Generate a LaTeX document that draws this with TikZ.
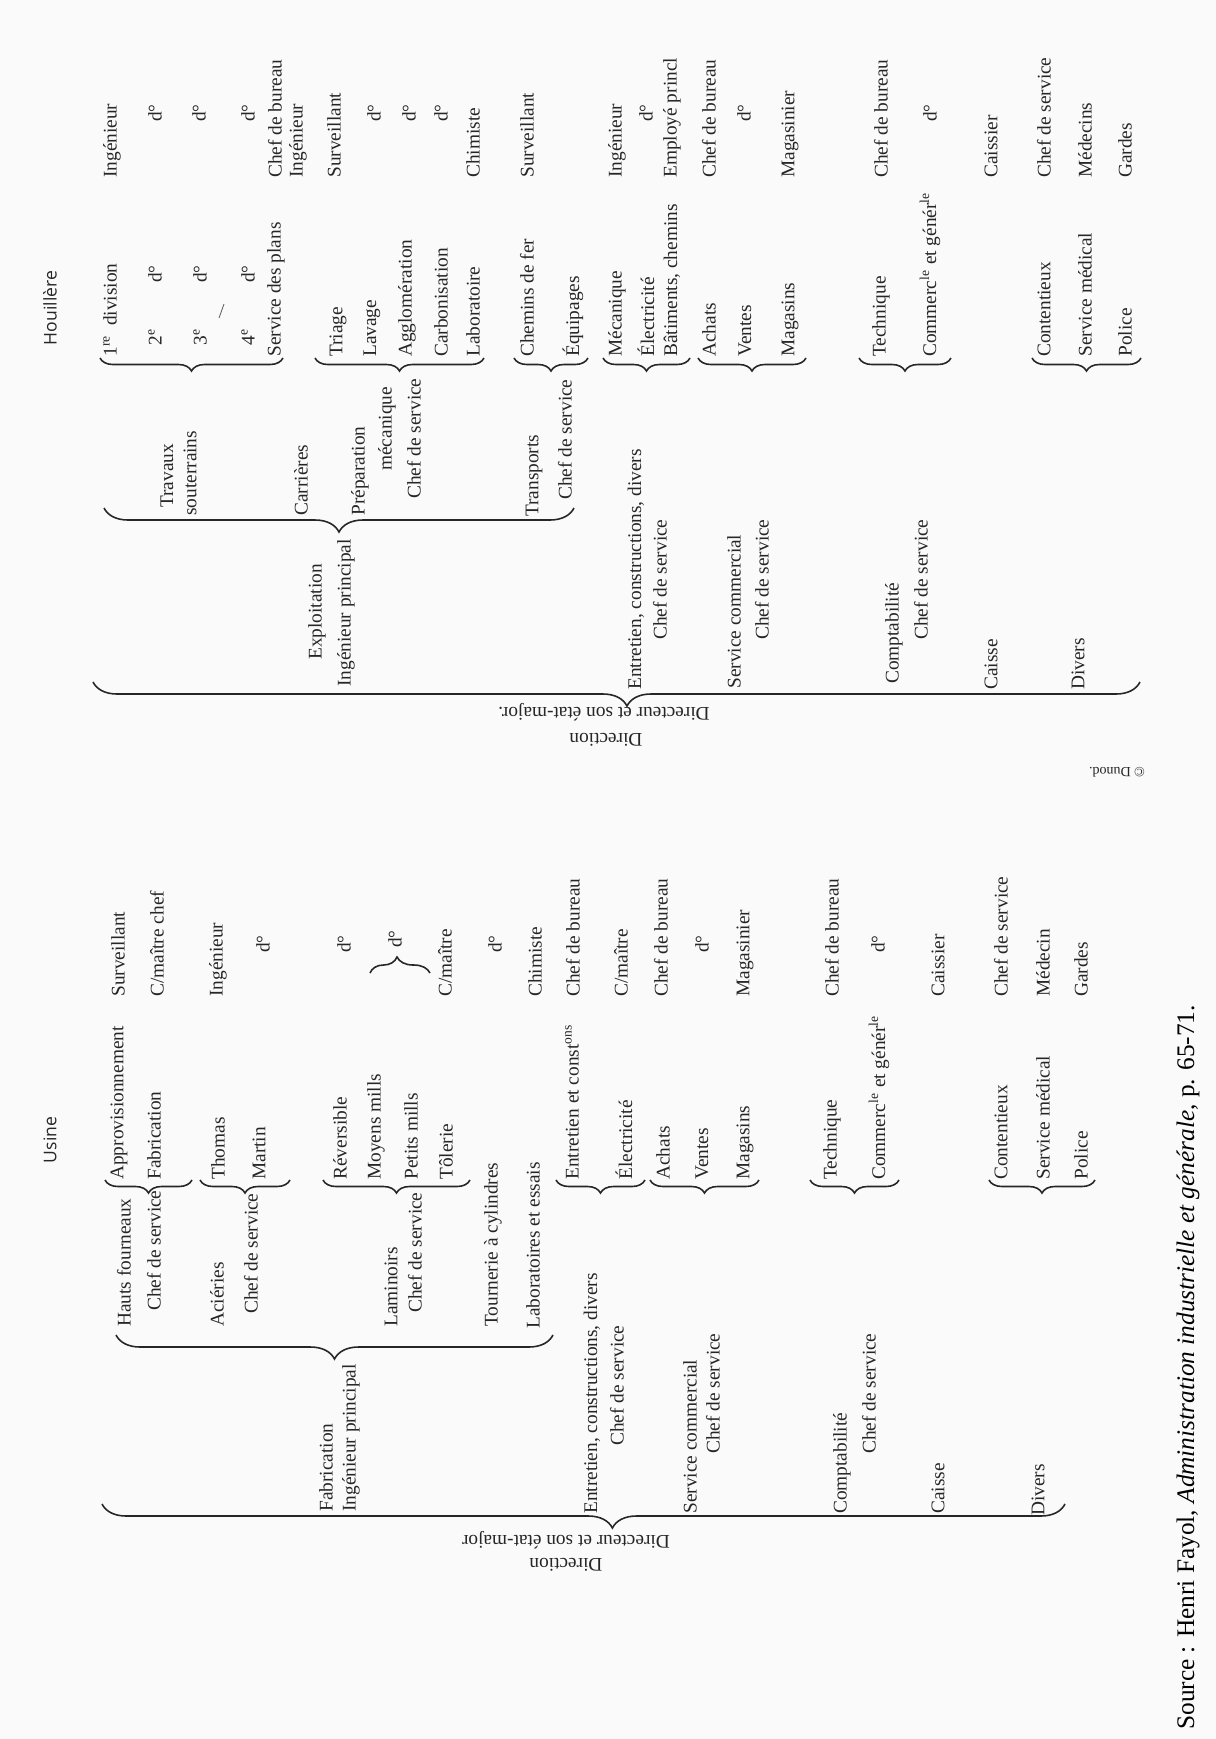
\documentclass[tikz,border=0pt]{standalone}
\usepackage{fontspec}
\setmainfont{Liberation Serif}
\newfontfamily\titrefont{Open Sans}
\usetikzlibrary{decorations.pathreplacing}

\begin{document}
\begin{tikzpicture}[x=0.02cm,y=-0.02cm]
\tikzstyle{every node}+=[inner sep=0pt, text=black!85]
\tikzstyle{lbl}=[rotate=90, anchor=west, font=\fontsize{11}{13}\selectfont]
\tikzstyle{ditto}=[rotate=90, anchor=center, font=\fontsize{11}{13}\selectfont]
\tikzstyle{dir}=[rotate=180, anchor=center, font=\fontsize{11}{13}\selectfont]
\tikzstyle{titre}=[rotate=90, anchor=center, font=\titrefont\fontsize{10}{12}\selectfont]
\tikzstyle{brc}=[draw=black!85, line width=0.9pt, decorate, decoration={brace, amplitude=0.26cm}]
\tikzstyle{bigbrc}=[draw=black!85, line width=0.9pt, decorate, decoration={brace, amplitude=0.48cm}]
\fill [black!2] (0,0) rectangle (1216,1739);
\useasboundingbox (0,0) rectangle (1216,1739);
% Houillere
\node [titre] (hTitre) at (50,308) {Houillère};
\node [lbl] (hR1) at (112,178) {Ingénieur};
\node [ditto] (hR2) at (155,113) {d°};
\node [ditto] (hR3) at (199,113) {d°};
\node [ditto] (hR4) at (248,113) {d°};
\node [lbl] (hR5) at (275,178) {Chef de bureau};
\node [lbl] (hR6) at (298,178) {Ingénieur};
\node [lbl] (hR7) at (334,178) {Surveillant};
\node [ditto] (hR8) at (374,113) {d°};
\node [ditto] (hR9) at (409,113) {d°};
\node [ditto] (hR10) at (441,113) {d°};
\node [lbl] (hR11) at (473,178) {Chimiste};
\node [lbl] (hR12) at (527,178) {Surveillant};
\node [lbl] (hR13) at (617,178) {Ingénieur};
\node [ditto] (hR14) at (646,113) {d°};
\node [lbl] (hR15) at (672,178) {Employé princl};
\node [lbl] (hR16) at (709,178) {Chef de bureau};
\node [ditto] (hR17) at (744,113) {d°};
\node [lbl] (hR18) at (790,178) {Magasinier};
\node [lbl] (hR19) at (881,178) {Chef de bureau};
\node [ditto] (hR20) at (930,113) {d°};
\node [lbl] (hR21) at (991,178) {Caissier};
\node [lbl] (hR22) at (1044,178) {Chef de service};
\node [lbl] (hR23) at (1085,178) {Médecins};
\node [lbl] (hR24) at (1125,178) {Gardes};
\node [lbl] (h2a) at (110,357) {1\textsuperscript{re}\hspace{0.5em}division};
\node [lbl] (h2b) at (155,346) {2\textsuperscript{e}};
\node [ditto] (h2bd) at (155,274) {d°};
\node [lbl] (h2c) at (200,346) {3\textsuperscript{e}};
\node [ditto] (h2cd) at (200,274) {d°};
\node [lbl] (h2d) at (248,346) {4\textsuperscript{e}};
\node [ditto] (h2dd) at (248,274) {d°};
\node [lbl] (h2e) at (276,357) {Service des plans};
\node [lbl] (h2f) at (338,357) {Triage};
\node [lbl] (h2g) at (372,357) {Lavage};
\node [lbl] (h2h) at (407,357) {Agglomération};
\node [lbl] (h2i) at (441,357) {Carbonisation};
\node [lbl] (h2j) at (473,357) {Laboratoire};
\node [lbl] (h2k) at (527,357) {Chemins de fer};
\node [lbl] (h2l) at (573,357) {Équipages};
\node [lbl] (h2m) at (617,357) {Mécanique};
\node [lbl] (h2n) at (646,357) {Électricité};
\node [lbl] (h2o) at (672,357) {Bâtiments, chemins};
\node [lbl] (h2p) at (709,357) {Achats};
\node [lbl] (h2q) at (745,357) {Ventes};
\node [lbl] (h2r) at (790,357) {Magasins};
\node [lbl] (h2s) at (881,357) {Technique};
\node [lbl] (h2t) at (930,357) {Commerc\textsuperscript{le} et génér\textsuperscript{le}};
\node [lbl] (h2u) at (1044,357) {Contentieux};
\node [lbl] (h2v) at (1085,357) {Service médical};
\node [lbl] (h2w) at (1125,357) {Police};
\draw [black!60, line width=0.5pt] (219,318) -- (224,304);
\draw [brc] (283,358) -- (100,358);
\draw [brc] (484,358) -- (315,358);
\draw [brc] (588,358) -- (514,358);
\draw [brc] (690,358) -- (603,358);
\draw [brc] (806,358) -- (698,358);
\draw [brc] (951,358) -- (859,358);
\draw [brc] (1141,358) -- (1032,358);
\node [lbl] (h3a) at (167,508) {Travaux};
\node [lbl] (h3b) at (190,516) {souterrains};
\node [lbl] (h3c) at (301,516) {Carrières};
\node [lbl] (h3d) at (360,516) {Préparation};
\node [lbl] (h3e) at (387,471) {mécanique};
\node [lbl] (h3f) at (414,499) {Chef de service};
\node [lbl] (h3g) at (534,517) {Transports};
\node [lbl] (h3h) at (565,500) {Chef de service};
\draw [bigbrc] (574,508) -- (104,508);
\node [ditto] (h1a) at (317,612) {Exploitation};
\node [lbl] (h1b) at (346,687) {Ingénieur principal};
\node [lbl] (h1c) at (636,690) {Entretien, constructions, divers};
\node [lbl] (h1d) at (660,640) {Chef de service};
\node [lbl] (h1e) at (734,689) {Service commercial};
\node [lbl] (h1f) at (762,640) {Chef de service};
\node [lbl] (h1g) at (894,684) {Comptabilité};
\node [lbl] (h1h) at (921,640) {Chef de service};
\node [lbl] (h1i) at (991,690) {Caisse};
\node [lbl] (h1j) at (1078,690) {Divers};
\draw [bigbrc, decoration={aspect=0.49}] (1140,682) -- (93,682);
\node [dir] (h0a) at (604,712) {Directeur et son état-major.};
\node [dir] (h0b) at (606,740) {Direction};
\node [dir, font=\fontsize{8}{10}\selectfont] (dunod) at (1117,772) {© Dunod.};
% Usine
\node [titre] (uTitre) at (50,1140) {Usine};
\node [lbl] (uR1) at (118,997) {Surveillant};
\node [lbl] (uR2) at (157,997) {C/maître chef};
\node [lbl] (uR3) at (218,997) {Ingénieur};
\node [ditto] (uR4) at (263,944) {d°};
\node [ditto] (uR5) at (344,944) {d°};
\node [ditto] (uR6) at (395,939) {d°};
\node [lbl] (uR7) at (445,997) {C/maître};
\node [ditto] (uR8) at (495,944) {d°};
\node [lbl] (uR9) at (535,997) {Chimiste};
\node [lbl] (uR10) at (573,997) {Chef de bureau};
\node [lbl] (uR11) at (621,997) {C/maître};
\node [lbl] (uR12) at (661,997) {Chef de bureau};
\node [ditto] (uR13) at (702,944) {d°};
\node [lbl] (uR14) at (745,997) {Magasinier};
\node [lbl] (uR15) at (832,997) {Chef de bureau};
\node [ditto] (uR16) at (878,944) {d°};
\node [lbl] (uR17) at (938,997) {Caissier};
\node [lbl] (uR18) at (1001,997) {Chef de service};
\node [lbl] (uR19) at (1043,997) {Médecin};
\node [lbl] (uR20) at (1081,997) {Gardes};
\draw [brc, decoration={amplitude=0.32cm, aspect=0.45}] (370,973) -- (430,973);
\node [lbl] (u2a) at (119,1180) {Approvisionnement};
\node [lbl] (u2b) at (154,1180) {Fabrication};
\node [lbl] (u2c) at (218,1180) {Thomas};
\node [lbl] (u2d) at (259,1180) {Martin};
\node [lbl] (u2e) at (340,1180) {Réversible};
\node [lbl] (u2f) at (376,1180) {Moyens mills};
\node [lbl] (u2g) at (411,1180) {Petits mills};
\node [lbl] (u2h) at (446,1180) {Tôlerie};
\node [lbl] (u2i) at (572,1180) {Entretien et const\textsuperscript{ons}};
\node [lbl] (u2j) at (624,1180) {Électricité};
\node [lbl] (u2k) at (663,1180) {Achats};
\node [lbl] (u2l) at (702,1180) {Ventes};
\node [lbl] (u2m) at (745,1180) {Magasins};
\node [lbl] (u2n) at (832,1180) {Technique};
\node [lbl] (u2o) at (879,1180) {Commerc\textsuperscript{le} et génér\textsuperscript{le}};
\node [lbl] (u2p) at (1001,1180) {Contentieux};
\node [lbl] (u2q) at (1043,1180) {Service médical};
\node [lbl] (u2r) at (1081,1180) {Police};
\draw [brc] (192,1180) -- (105,1180);
\draw [brc] (290,1180) -- (200,1180);
\draw [brc] (470,1180) -- (323,1180);
\draw [brc] (645,1180) -- (556,1180);
\draw [brc] (759,1180) -- (650,1180);
\draw [brc] (899,1180) -- (810,1180);
\draw [brc] (1095,1180) -- (989,1180);
\node [lbl] (u3a) at (124,1327) {Hauts fourneaux};
\node [lbl] (u3b) at (154,1311) {Chef de service};
\node [lbl] (u3c) at (217,1327) {Aciéries};
\node [lbl] (u3d) at (251,1314) {Chef de service};
\node [lbl] (u3e) at (391,1327) {Laminoirs};
\node [lbl] (u3f) at (415,1313) {Chef de service};
\node [lbl] (u3g) at (493,1327) {Tournerie à cylindres};
\node [lbl] (u3h) at (533,1329) {Laboratoires et essais};
\draw [bigbrc] (553,1335) -- (116,1335);
\node [lbl] (u1a) at (326,1512) {Fabrication};
\node [lbl] (u1b) at (351,1512) {Ingénieur principal};
\node [lbl] (u1c) at (592,1514) {Entretien, constructions, divers};
\node [lbl] (u1d) at (617,1446) {Chef de service};
\node [lbl] (u1e) at (690,1514) {Service commercial};
\node [lbl] (u1f) at (713,1454) {Chef de service};
\node [lbl] (u1g) at (842,1514) {Comptabilité};
\node [lbl] (u1h) at (869,1454) {Chef de service};
\node [lbl] (u1i) at (938,1514) {Caisse};
\node [lbl] (u1j) at (1038,1516) {Divers};
\draw [bigbrc, decoration={aspect=0.47}] (1065,1504) -- (102,1504);
\node [dir] (u0a) at (566,1540) {Directeur et son état-major};
\node [dir] (u0b) at (566,1565) {Direction};
% source
\node [lbl, font=\fontsize{14.4}{17}\selectfont, text=black] (source) at (1188,1730) {Source : Henri Fayol, \textit{Administration industrielle et générale}, p. 65-71.};
\end{tikzpicture}
\end{document}
